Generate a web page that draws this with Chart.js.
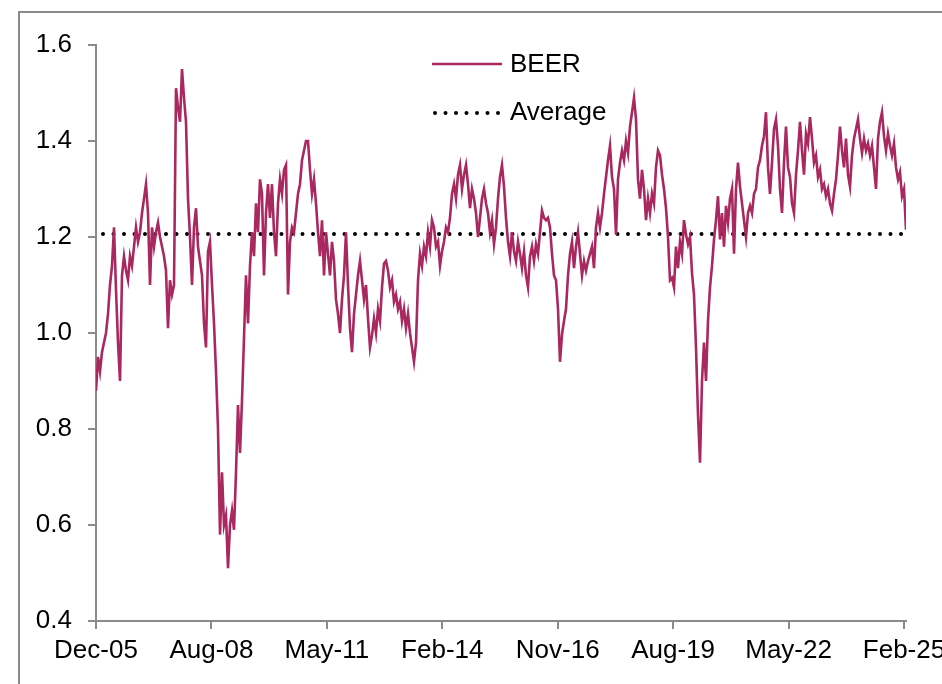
<!DOCTYPE html>
<html>
<head>
<meta charset="utf-8">
<title>BEER vs average</title>
<script src="https://cdn.jsdelivr.net/npm/chart.js@4.4.1/dist/chart.umd.min.js"></script>
<style>
  html, body { margin: 0; padding: 0; background: #fff; }
  canvas { display: block; }
</style>
</head>
<body>
<canvas id="beerChart" width="942" height="684"></canvas>
<script>
/* ── Data ───────────────────────────────────────────────────── */
/* x axis labels, one every 1000 days starting Dec-05 */
const TICK_LABELS = ["Dec-05", "Aug-08", "May-11", "Feb-14", "Nov-16", "Aug-19", "May-22", "Feb-25"];
const TICK_EVERY_DAYS = 1000;

/* BEER readings, one roughly every 17 days (404 steps = 7000 days) */
const SAMPLE_DAYS = 7000 / 404;
const BEER = [
  0.88, 0.95, 0.92, 0.96, 0.98, 1.00, 1.04, 1.10, 1.14, 1.22,
  1.09, 0.98, 0.90, 1.12, 1.16, 1.13, 1.11, 1.16, 1.14, 1.18,
  1.22, 1.19, 1.21, 1.25, 1.28, 1.31, 1.25, 1.10, 1.22, 1.18,
  1.21, 1.23, 1.20, 1.18, 1.16, 1.13, 1.01, 1.11, 1.08, 1.10,
  1.51, 1.47, 1.44, 1.55, 1.49, 1.44, 1.28, 1.20, 1.10, 1.22,
  1.26, 1.18, 1.15, 1.12, 1.02, 0.97, 1.17, 1.19, 1.10, 1.02,
  0.92, 0.80, 0.58, 0.71, 0.60, 0.62, 0.51, 0.60, 0.63, 0.59,
  0.71, 0.85, 0.75, 0.86, 0.99, 1.12, 1.02, 1.14, 1.21, 1.16,
  1.27, 1.21, 1.32, 1.29, 1.12, 1.25, 1.31, 1.24, 1.31, 1.21,
  1.16, 1.27, 1.32, 1.29, 1.34, 1.35, 1.08, 1.19, 1.22, 1.21,
  1.25, 1.29, 1.31, 1.36, 1.38, 1.40, 1.40, 1.34, 1.29, 1.32,
  1.27, 1.21, 1.16, 1.235, 1.12, 1.21, 1.165, 1.12, 1.19, 1.15,
  1.07, 1.04, 1.00, 1.07, 1.12, 1.21, 1.10, 1.01, 0.96, 1.04,
  1.08, 1.12, 1.15, 1.11, 1.07, 1.10, 1.03, 0.97, 0.995, 1.03,
  1.00, 1.05, 1.025, 1.095, 1.145, 1.15, 1.13, 1.095, 1.11, 1.065,
  1.08, 1.05, 1.065, 1.025, 1.05, 1.01, 1.04, 1.00, 0.97, 0.94,
  0.98, 1.11, 1.165, 1.14, 1.18, 1.16, 1.21, 1.18, 1.235, 1.22,
  1.18, 1.19, 1.14, 1.17, 1.19, 1.22, 1.21, 1.24, 1.29, 1.31,
  1.28, 1.33, 1.35, 1.30, 1.33, 1.35, 1.31, 1.26, 1.30, 1.28,
  1.25, 1.20, 1.24, 1.28, 1.30, 1.27, 1.25, 1.21, 1.235, 1.185,
  1.22, 1.28, 1.325, 1.35, 1.305, 1.24, 1.19, 1.16, 1.21, 1.17,
  1.15, 1.19, 1.165, 1.135, 1.17, 1.12, 1.095, 1.16, 1.18, 1.15,
  1.185, 1.165, 1.21, 1.255, 1.24, 1.235, 1.24, 1.22, 1.165, 1.12,
  1.11, 1.05, 0.94, 0.997, 1.025, 1.05, 1.12, 1.165, 1.19, 1.135,
  1.18, 1.21, 1.165, 1.12, 1.15, 1.13, 1.15, 1.165, 1.18, 1.135,
  1.22, 1.25, 1.22, 1.25, 1.29, 1.325, 1.36, 1.39, 1.325, 1.30,
  1.205, 1.32, 1.355, 1.38, 1.36, 1.40, 1.375, 1.43, 1.46, 1.49,
  1.445, 1.32, 1.28, 1.34, 1.30, 1.235, 1.28, 1.25, 1.29, 1.27,
  1.345, 1.38, 1.37, 1.33, 1.30, 1.26, 1.20, 1.11, 1.115, 1.095,
  1.18, 1.135, 1.19, 1.165, 1.235, 1.205, 1.185, 1.20, 1.125, 1.08,
  0.97, 0.83, 0.73, 0.90, 0.98, 0.90, 1.025, 1.095, 1.14, 1.195,
  1.235, 1.285, 1.195, 1.25, 1.18, 1.265, 1.23, 1.28, 1.30, 1.165,
  1.30, 1.355, 1.305, 1.27, 1.235, 1.20, 1.25, 1.265, 1.25, 1.29,
  1.30, 1.345, 1.36, 1.39, 1.41, 1.46, 1.345, 1.29, 1.355, 1.425,
  1.445, 1.39, 1.30, 1.25, 1.355, 1.43, 1.345, 1.325, 1.27, 1.25,
  1.33, 1.38, 1.44, 1.38, 1.33, 1.415, 1.395, 1.45, 1.405, 1.355,
  1.37, 1.325, 1.34, 1.30, 1.31, 1.285, 1.30, 1.27, 1.255, 1.29,
  1.32, 1.37, 1.43, 1.38, 1.345, 1.405, 1.33, 1.305, 1.37, 1.405,
  1.425, 1.445, 1.405, 1.375, 1.405, 1.38, 1.395, 1.37, 1.39, 1.345,
  1.30, 1.405, 1.44, 1.46, 1.41, 1.38, 1.415, 1.39, 1.37, 1.395,
  1.345, 1.32, 1.335, 1.285, 1.30, 1.215
];

/* Long-run average of the series */
const AVERAGE = 1.206;

/* y axis range */
const Y_MIN = 0.4;
const Y_MAX = 1.6;
const Y_STEP = 0.2;

/* ── Styles ─────────────────────────────────────────────────── */
const BEER_COLOR = "#a9285f";
const AXIS_COLOR = "#8a8a8a";
const FONT = { family: "'Liberation Sans', Arial, sans-serif", size: 26 };

/* ── Build chart points ─────────────────────────────────────── */
const beerPoints = BEER.map((v, i) => ({ x: i * SAMPLE_DAYS, y: v }));
const lastDay = (BEER.length - 1) * SAMPLE_DAYS;
const avgPoints = [{ x: 0, y: AVERAGE }, { x: lastDay, y: AVERAGE }];

/* ── Plugins: outer frame and hand-placed legend ────────────── */
const framePlugin = {
  id: "frame",
  beforeDraw(chart) {
    const ctx = chart.ctx;
    ctx.save();
    ctx.fillStyle = "#fff";
    ctx.fillRect(0, 0, chart.width, chart.height);
    ctx.strokeStyle = AXIS_COLOR;
    ctx.lineWidth = 2;
    ctx.strokeRect(19, 12, 1200, 1200);
    ctx.restore();
  },
};

const legendPlugin = {
  id: "stackedLegend",
  afterDraw(chart) {
    const ctx = chart.ctx;
    const sets = chart.data.datasets;
    ctx.save();
    ctx.font = `${FONT.size}px ${FONT.family}`;
    ctx.fillStyle = "#000";
    ctx.textBaseline = "middle";

    /* BEER: solid line sample */
    ctx.strokeStyle = BEER_COLOR;
    ctx.lineWidth = 2.5;
    ctx.beginPath();
    ctx.moveTo(432, 64);
    ctx.lineTo(502, 64);
    ctx.stroke();
    ctx.fillText(sets[0].label, 510, 65);

    /* Average: row of dots */
    for (let k = 0; k < 7; k++) {
      ctx.beginPath();
      ctx.arc(435 + k * 10.5, 113, 2, 0, Math.PI * 2);
      ctx.fill();
    }
    ctx.fillText(sets[1].label, 510, 113);
    ctx.restore();
  },
};

/* ── Chart ──────────────────────────────────────────────────── */
new Chart(document.getElementById("beerChart"), {
  type: "line",
  data: {
    datasets: [
      {
        label: "BEER",
        data: beerPoints,
        borderColor: BEER_COLOR,
        borderWidth: 2.6,
        pointRadius: 0,
        tension: 0,
      },
      {
        label: "Average",
        data: avgPoints,
        borderColor: "#000",
        borderWidth: 4,
        borderDash: [0, 10.5],
        borderDashOffset: 3.5,
        borderCapStyle: "round",
        pointRadius: 0,
      },
    ],
  },
  options: {
    responsive: false,
    animation: false,
    layout: {
      autoPadding: false,
      padding: { top: 45, right: 36, bottom: 0, left: 0 },
    },
    plugins: {
      legend: { display: false },
      tooltip: { enabled: false },
    },
    scales: {
      x: {
        type: "linear",
        min: 0,
        max: lastDay,
        afterBuildTicks: (scale) => {
          scale.ticks = TICK_LABELS.map((_, i) => ({ value: i * TICK_EVERY_DAYS }));
        },
        afterFit: (scale) => {
          scale.height = 63;
          scale.paddingLeft = 0;
          scale.paddingRight = 0;
        },
        ticks: {
          autoSkip: false,
          maxRotation: 0,
          padding: 6,
          color: "#000",
          font: FONT,
          callback: (value, index) => TICK_LABELS[index],
        },
        grid: {
          drawOnChartArea: false,
          drawTicks: true,
          tickLength: 8,
          color: AXIS_COLOR,
          lineWidth: 2,
        },
        border: { color: AXIS_COLOR, width: 2 },
      },
      y: {
        min: Y_MIN,
        max: Y_MAX,
        afterFit: (scale) => {
          scale.width = 96;
          scale.paddingTop = 0;
          scale.paddingBottom = 0;
        },
        ticks: {
          stepSize: Y_STEP,
          padding: 16,
          color: "#000",
          font: FONT,
          callback: (v) => v.toFixed(1),
        },
        grid: {
          drawOnChartArea: false,
          drawTicks: true,
          tickLength: 8,
          color: AXIS_COLOR,
          lineWidth: 2,
        },
        border: { color: AXIS_COLOR, width: 2 },
      },
    },
  },
  plugins: [framePlugin, legendPlugin],
});
</script>
</body>
</html>
